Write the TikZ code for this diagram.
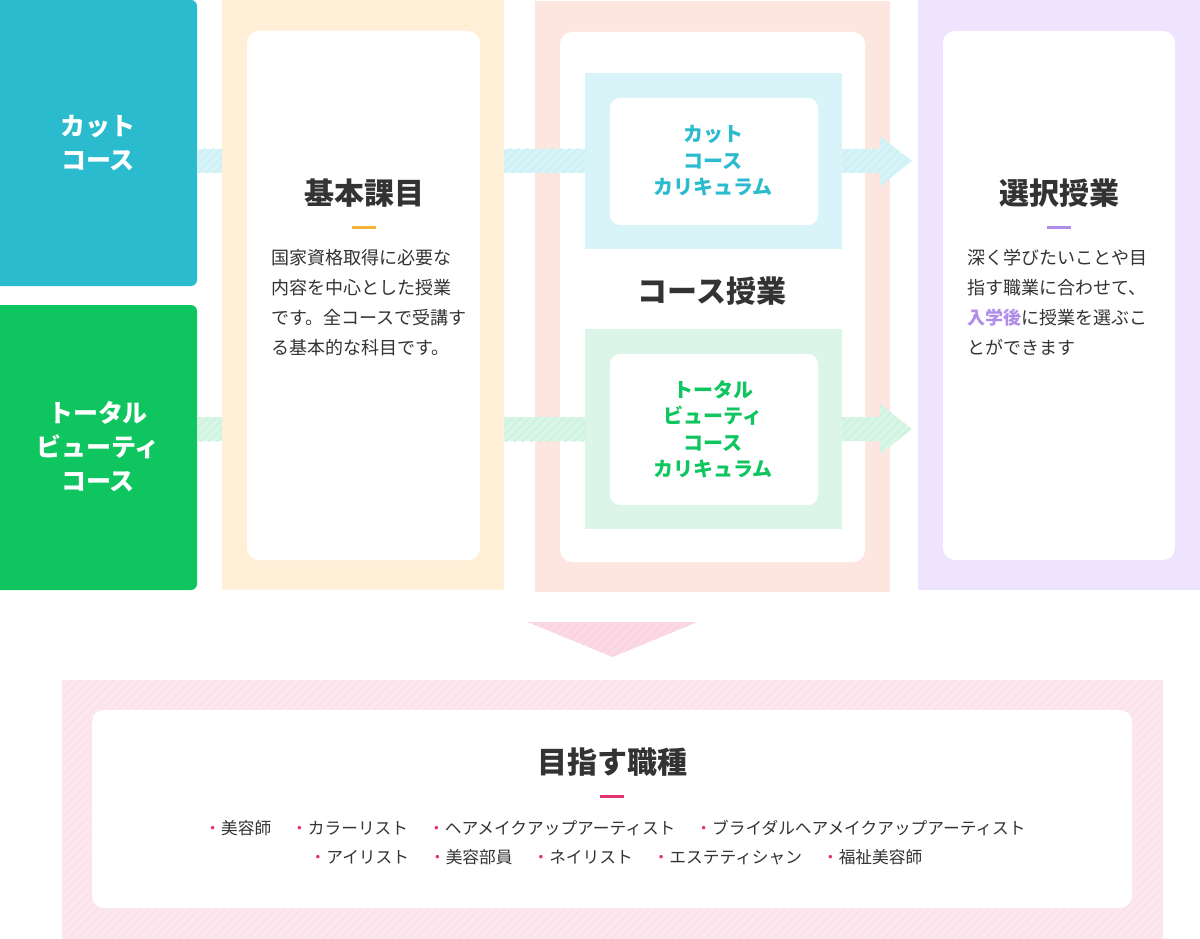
\documentclass[tikz,border=0pt]{standalone}
\usepackage{fontspec}
\setmainfont{Noto Sans CJK JP}
\usepackage{tikz}
\usetikzlibrary{calc,patterns.meta}
\usetikzlibrary{positioning}
\usepackage{xcolor}
\definecolor{textdark}{HTML}{333333}
\definecolor{cutblue}{HTML}{2BBBCE}
\definecolor{beautygreen}{HTML}{0FC55F}
\definecolor{kihonbg}{HTML}{FFEFD7}
\definecolor{kihonbar}{HTML}{F6B43A}
\definecolor{coursebg}{HTML}{FDE6E0}
\definecolor{cutbg}{HTML}{D9F4F8}
\definecolor{beautybg}{HTML}{DBF5E8}
\definecolor{selectbg}{HTML}{EEE4FD}
\definecolor{selectbar}{HTML}{B18DEA}
\definecolor{goalbg}{HTML}{FDE7EE}
\definecolor{goalstripe}{HTML}{FCE0E9}
\definecolor{goalbar}{HTML}{E2356C}
\definecolor{arrowpink}{HTML}{FBD9E4}
\definecolor{arrowstripe}{HTML}{FAD1DE}
\definecolor{cutband}{HTML}{D6F4F8}
\definecolor{cutstripe}{HTML}{CBEFF4}
\definecolor{beautyband}{HTML}{D8F6E6}
\definecolor{beautystripe}{HTML}{CCF1DD}

\newcommand{\jobitem}[1]{{\color{goalbar}・}#1}

\begin{document}
\begin{tikzpicture}[x=1pt,y=-1pt,
  panel/.style={anchor=north west,inner sep=0pt,outer sep=0pt},
  card/.style={panel,fill=white,rounded corners=12pt},
  band/.style 2 args={preaction={fill=#1},pattern={Lines[angle=45,distance=6pt,line width=1.4pt]},pattern color=#2},
  coursename/.style={text=white,align=center,font=\fontsize{25}{34}\selectfont\bfseries},
  curname/.style={align=center,font=\fontsize{20}{26.5}\selectfont\bfseries},
  heading/.style={text=textdark,font=\fontsize{30}{36}\selectfont\bfseries},
  headbar/.style={fill=#1,minimum width=24pt,minimum height=3pt,inner sep=0pt},
  bodytext/.style={anchor=base west,text=textdark,text width=220pt,align=left,inner sep=0pt,font=\fontsize{18}{30}\selectfont},
  joblist/.style={text=textdark,font=\fontsize{16.7}{20}\selectfont}]

\useasboundingbox (0,0) rectangle (1200,939);

% course boxes on the left
\node[panel,fill=cutblue,rounded corners=6pt,minimum width=207pt,minimum height=286pt] (cut) at (-10,0) {};
\node[panel,fill=beautygreen,rounded corners=6pt,minimum width=207pt,minimum height=285pt] (beauty) at (-10,305) {};

% basic subjects
\node[panel,fill=kihonbg,minimum width=282pt,minimum height=590pt] (kihon) at (222,0) {};
\node[card,minimum width=233pt,minimum height=529pt] (kihoncard) at (247,31) {};

% course classes
\node[panel,fill=coursebg,minimum width=355pt,minimum height=591pt] (course) at (535,1) {};
\node[card,minimum width=305pt,minimum height=530pt] (coursecard) at (560,32) {};
\node[panel,fill=cutbg,minimum width=257pt,minimum height=176pt] (cutcur) at (585,73) {};
\node[card,rounded corners=10pt,minimum width=208pt,minimum height=127pt] (cutcurcard) at (610,98) {};
\node[panel,fill=beautybg,minimum width=257pt,minimum height=200pt] (beautycur) at (585,329) {};
\node[card,rounded corners=10pt,minimum width=208pt,minimum height=151pt] (beautycurcard) at (610,354) {};

% elective classes
\node[panel,fill=selectbg,minimum width=292pt,minimum height=590pt] (select) at (918,0) {};
\node[card,minimum width=232pt,minimum height=529pt] (selectcard) at (943,31) {};

% target jobs
\path[band={goalbg}{goalstripe}] (62,680) rectangle (1163,950);
\node[panel,minimum width=1101pt,minimum height=270pt] (goal) at (62,680) {};
\node[card,minimum width=1040pt,minimum height=198pt] (goalcard) at (92,710) {};

% bands and arrows
\path[band={cutband}{cutstripe}] ($(cut.east |- cutcur.east)+(0,-12)$) rectangle ($(kihon.west |- cutcur.east)+(0,12)$);
\path[band={cutband}{cutstripe}] ($(kihon.east |- cutcur.west)+(0,-12)$) rectangle ($(cutcur.west)+(0,12)$);
\path[band={cutband}{cutstripe}] ($(cutcur.east)+(0,-12)$) -- ++(38,0) -- ++(0,-13)
  -- ($(select.west |- cutcur.east)+(-6,0)$) -- ($(cutcur.east)+(38,25)$) -- ++(0,-13)
  -- ($(cutcur.east)+(0,12)$) -- cycle;
\path[band={beautyband}{beautystripe}] ($(beauty.east |- beautycur.east)+(0,-12)$) rectangle ($(kihon.west |- beautycur.east)+(0,12)$);
\path[band={beautyband}{beautystripe}] ($(kihon.east |- beautycur.west)+(0,-12)$) rectangle ($(beautycur.west)+(0,12)$);
\path[band={beautyband}{beautystripe}] ($(beautycur.east)+(0,-12)$) -- ++(38,0) -- ++(0,-13)
  -- ($(select.west |- beautycur.east)+(-6,0)$) -- ($(beautycur.east)+(38,25)$) -- ++(0,-13)
  -- ($(beautycur.east)+(0,12)$) -- cycle;
\path[band={arrowpink}{arrowstripe}] ($(goal.north)+(-85,-58)$) -- ($(goal.north)+(85,-58)$)
  -- ($(goal.north)+(0,-23)$) -- cycle;

% texts
\node[coursename] (cutname) at (98,143) {カット\\コース};
\node[coursename] (beautyname) at (98,447) {トータル\\ビューティ\\コース};

\node[heading] (kihontitle) at (364,193) {基本課目};
\node[headbar=kihonbar,below=15pt of kihontitle] (kihonline) {};
\node[bodytext] (kihontext) at (271,264) {国家資格取得に必要な\\内容を中心とした授業\\です。全コースで受講す\\る基本的な科目です。};

\node[curname,text=cutblue] (cutcurname) at (713,161) {カット\\コース\\カリキュラム};
\node[heading] (coursetitle) at (712,291) {コース授業};
\node[curname,text=beautygreen] (beautycurname) at (713,429) {トータル\\ビューティ\\コース\\カリキュラム};

\node[heading] (selecttitle) at (1059,193) {選択授業};
\node[headbar=selectbar,below=15pt of selecttitle] (selectline) {};
\node[bodytext] (selecttext) at (967,264) {深く学びたいことや目\\指す職業に合わせて、\\{\bfseries\color{selectbar}入学後}に授業を選ぶこ\\とができます};

\node[heading] (goaltitle) at (612,762) {目指す職種};
\node[headbar=goalbar,below=15pt of goaltitle] (goalline) {};
\node[joblist] (jobsa) at (615,828) {\jobitem{美容師}\hspace{20pt}\jobitem{カラーリスト}\hspace{20pt}\jobitem{ヘアメイクアップアーティスト}\hspace{20pt}\jobitem{ブライダルヘアメイクアップアーティスト}};
\node[joblist] (jobsb) at (616,857) {\jobitem{アイリスト}\hspace{20pt}\jobitem{美容部員}\hspace{20pt}\jobitem{ネイリスト}\hspace{20pt}\jobitem{エステティシャン}\hspace{20pt}\jobitem{福祉美容師}};

\end{tikzpicture}
\end{document}
